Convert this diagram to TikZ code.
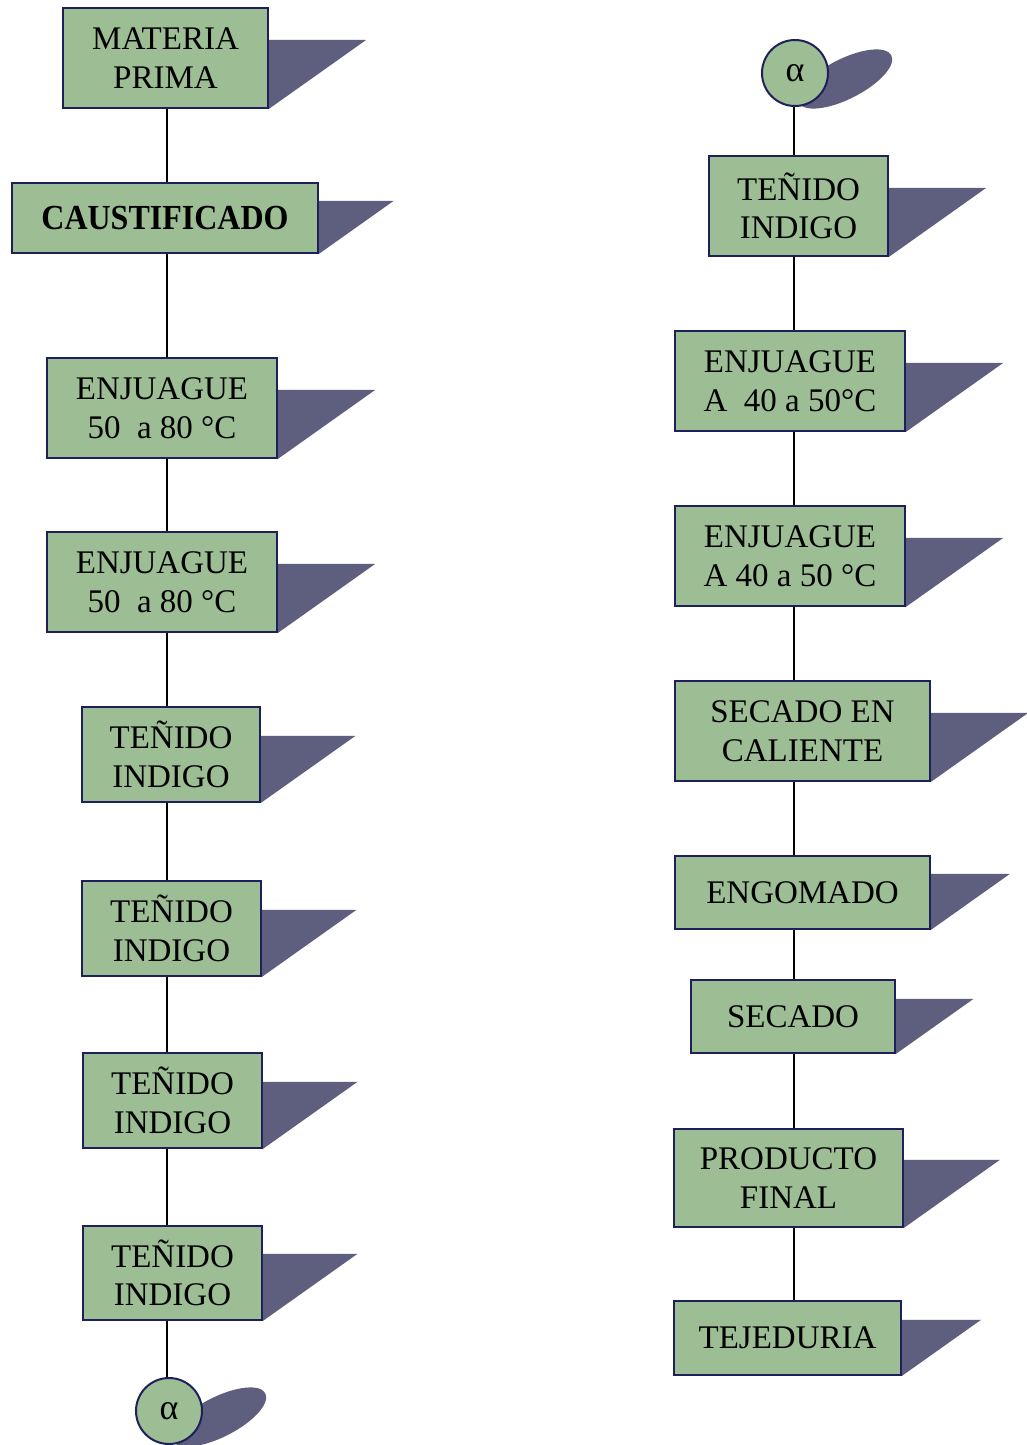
\documentclass[tikz,border=0pt]{standalone}
\usepackage{fontspec}
\setmainfont{Liberation Serif}
\usetikzlibrary{backgrounds,calc}
\definecolor{boxgreen}{RGB}{157,190,148}
\definecolor{boxedge}{RGB}{30,32,92}
\definecolor{shadowgray}{RGB}{94,94,126}
% wedge-shaped drop shadow to the right of a box: #1 = node, #2 = rise
\newcommand\dropshade[2]{\fill[shadowgray] (#1.south east) -- ++({1.41*#2},{-#2}) -- ++({-1.41*#2},0) -- cycle;}
% elongated shadow behind a connector circle
\newcommand\jointshade[1]{\begin{scope}[shift={($(#1)+(50,6)$)}, rotate=27]
  \fill[shadowgray] (0,0) ellipse [x radius=52pt, y radius=20pt];\end{scope}}

\begin{document}
\begin{tikzpicture}[x=1pt,y=-1pt,
  stage/.style={draw=boxedge, line width=1.8pt, fill=boxgreen, inner sep=0pt,
    align=center, font=\fontsize{33}{38.5}\selectfont},
  joint/.style={circle, draw=boxedge, line width=2pt, fill=boxgreen, inner sep=0pt,
    minimum size=66pt, font=\fontsize{36}{38}\selectfont},
  flow/.style={line width=2.2pt, black}]

\useasboundingbox (0,0) rectangle (1027,1445);

% left column
\node[stage, minimum width=205pt, minimum height=100pt] (mp) at (165.5,58) {MATERIA\\PRIMA};
\node[stage, minimum width=306pt, minimum height=70pt, font=\fontsize{32}{36}\selectfont\bfseries] (ca) at (165,218) {\scalebox{1}[1.1]{CAUSTIFICADO}};
\node[stage, minimum width=230pt, minimum height=100pt] (e1) at (162,408) {ENJUAGUE\\50\ \ a 80 °C};
\node[stage, minimum width=230pt, minimum height=100pt] (e2) at (162,582) {ENJUAGUE\\50\ \ a 80 °C};
\node[stage, minimum width=178pt, minimum height=95pt] (t1) at (171,754.5) {TEÑIDO\\INDIGO};
\node[stage, minimum width=179pt, minimum height=95pt] (t2) at (171.5,928.5) {TEÑIDO\\INDIGO};
\node[stage, minimum width=179pt, minimum height=95pt] (t3) at (172.5,1100.5) {TEÑIDO\\INDIGO};
\node[stage, minimum width=179pt, minimum height=94pt] (t4) at (172.5,1273) {TEÑIDO\\INDIGO};
\node[joint] (a1) at (169,1411) {α};

% right column
\node[joint] (a2) at (795,73) {α};
\node[stage, minimum width=179pt, minimum height=100pt] (r1) at (798.5,206) {TEÑIDO\\INDIGO};
\node[stage, minimum width=230pt, minimum height=100pt] (r2) at (790,381) {ENJUAGUE\\A\ \ 40 a 50°C};
\node[stage, minimum width=230pt, minimum height=100pt] (r3) at (790,556) {ENJUAGUE\\A 40 a 50 °C};
\node[stage, minimum width=255pt, minimum height=100pt] (r4) at (802.5,731) {SECADO EN\\CALIENTE};
\node[stage, minimum width=255pt, minimum height=73pt] (r5) at (802.5,892.5) {ENGOMADO};
\node[stage, minimum width=204pt, minimum height=73pt] (r6) at (793,1016.5) {SECADO};
\node[stage, minimum width=229pt, minimum height=98pt] (r7) at (788.5,1178) {PRODUCTO\\FINAL};
\node[stage, minimum width=227pt, minimum height=74pt] (r8) at (787.5,1338) {TEJEDURIA};

% page background and shadows behind the shapes
\begin{scope}[on background layer]
  \fill[white] (0,0) rectangle (1027,1445);
  \dropshade{mp}{69} \dropshade{ca}{53} \dropshade{e1}{69} \dropshade{e2}{69}
  \dropshade{t1}{67} \dropshade{t2}{67} \dropshade{t3}{67} \dropshade{t4}{67}
  \dropshade{r1}{69} \dropshade{r2}{69} \dropshade{r3}{69} \dropshade{r4}{69}
  \dropshade{r5}{56} \dropshade{r6}{55} \dropshade{r7}{68} \dropshade{r8}{56}
  \jointshade{a1} \jointshade{a2}
\end{scope}

% vertical flow lines
\coordinate (colL) at (167,0);
\coordinate (colR) at (794,0);
\foreach \u/\v in {mp/ca, ca/e1, e1/e2, e2/t1, t1/t2, t2/t3, t3/t4, t4/a1}
  \draw[flow] (\u.south -| colL) -- (\v.north -| colL);
\foreach \u/\v in {a2/r1, r1/r2, r2/r3, r3/r4, r4/r5, r5/r6, r6/r7, r7/r8}
  \draw[flow] (\u.south -| colR) -- (\v.north -| colR);
\end{tikzpicture}
\end{document}
